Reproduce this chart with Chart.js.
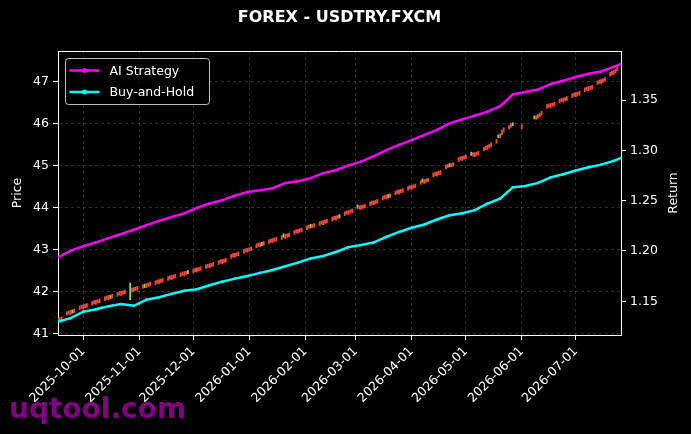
<!DOCTYPE html>
<html>
<head>
<meta charset="utf-8">
<script src="https://cdn.jsdelivr.net/npm/chart.js@4"></script>
<style>
  html, body { margin: 0; padding: 0; background: #000; }
  #wrap { width: 691px; height: 434px; position: relative; }
</style>
</head>
<body>
<div id="wrap"><canvas id="chart"></canvas></div>
<script>
// ---- data ----
const title = 'FOREX - USDTRY.FXCM';
const firstTradingDay = '2025-09-17';   // weekdays only, null = no bar

// daily candles, one row per week (Mon..Fri)
const opens = [
  41.26, 41.29, 41.30,
  41.43, 41.46, 41.45, 41.56, 41.49,
  41.56, 41.59, 41.58, 41.61, 41.62,
  41.67, 41.70, 41.69, 41.72, 41.73,
  41.78, 41.81, 41.80, 41.91, 41.84,
  41.88, 41.91, 41.90, 41.93, 41.94,
  42.20, 42.00, 41.99, 42.02, 42.03,
  42.07, 42.17, 42.09, 42.12, 42.13,
  42.16, 42.19, 42.18, 42.21, 42.22,
  42.26, 42.29, 42.28, 42.31, 42.32,
  42.35, 42.38, 42.37, 42.40, 42.50,
  42.44, 42.47, 42.46, 42.49, 42.50,
  42.54, 42.57, 42.56, 42.59, 42.60,
  42.64, 42.67, 42.66, 42.69, 42.70,
  42.79, 42.82, 42.81, 42.84, 42.85,
  42.91, 42.94, 42.93, 42.96, 42.97,
  43.04, 43.07, 43.06, 43.17, 43.10,
  43.14, 43.17, 43.16, 43.19, 43.20,
  43.24, 43.37, 43.26, 43.29, 43.30,
  43.36, 43.39, 43.38, 43.41, 43.42,
  43.47, 43.50, 43.60, 43.52, 43.53,
  43.57, 43.60, 43.59, 43.62, 43.63,
  43.68, 43.71, 43.70, 43.73, 43.83,
  43.81, 43.84, 43.83, 43.86, 43.87,
  44.06, 43.96, 43.95, 43.98, 43.99,
  44.04, 44.07, 44.06, 44.09, 44.10,
  44.18, 44.21, 44.20, 44.31, 44.24,
  44.30, 44.33, 44.32, 44.35, 44.36,
  44.41, 44.44, 44.43, 44.46, 44.47,
  44.55, 44.68, 44.57, 44.60, 44.61,
  44.73, 44.76, 44.75, 44.78, 44.79,
  44.92, 44.95, 45.05, 44.97, 44.98,
  45.10, 45.13, 45.12, 45.15, 45.16,
  45.32, 45.22, 45.21, 45.24, 45.25,
  45.35, 45.38, 45.38, 45.42, 45.45,
  45.53, 45.73, 45.66, 45.74, 45.81,
  45.87, 45.91, 46.02, null, null,
  45.88, null, null, null, null,
  46.18, 46.10, 46.13, 46.16, 46.20,
  46.36, 46.39, 46.38, 46.41, 46.42,
  46.49, 46.52, 46.51, 46.54, 46.55,
  46.62, 46.65, 46.64, 46.67, 46.68,
  46.76, 46.79, 46.78, 46.81, 46.82,
  46.93, 46.96, 46.95, 46.98, 47.01,
  47.13, 47.16, 47.17, 47.21, 47.26
];
const closes = [
  41.36, 41.37, 41.39,
  41.52, 41.54, 41.55, 41.48, 41.58,
  41.65, 41.67, 41.68, 41.69, 41.71,
  41.76, 41.78, 41.79, 41.80, 41.82,
  41.87, 41.89, 41.90, 41.83, 41.93,
  41.97, 41.99, 42.00, 42.01, 42.03,
  41.80, 42.08, 42.09, 42.10, 42.12,
  42.16, 42.09, 42.19, 42.20, 42.22,
  42.25, 42.27, 42.28, 42.29, 42.31,
  42.35, 42.37, 42.38, 42.39, 42.41,
  42.44, 42.46, 42.47, 42.48, 42.42,
  42.53, 42.55, 42.56, 42.57, 42.59,
  42.63, 42.65, 42.66, 42.67, 42.69,
  42.73, 42.75, 42.76, 42.77, 42.79,
  42.88, 42.90, 42.91, 42.92, 42.94,
  43.00, 43.02, 43.03, 43.04, 43.06,
  43.13, 43.15, 43.16, 43.09, 43.19,
  43.23, 43.25, 43.26, 43.27, 43.29,
  43.33, 43.29, 43.36, 43.37, 43.39,
  43.45, 43.47, 43.48, 43.49, 43.51,
  43.56, 43.58, 43.52, 43.60, 43.62,
  43.66, 43.68, 43.69, 43.70, 43.72,
  43.77, 43.79, 43.80, 43.81, 43.75,
  43.90, 43.92, 43.93, 43.94, 43.96,
  43.98, 44.04, 44.05, 44.06, 44.08,
  44.13, 44.15, 44.16, 44.17, 44.19,
  44.27, 44.29, 44.30, 44.23, 44.33,
  44.39, 44.41, 44.42, 44.43, 44.45,
  44.50, 44.52, 44.53, 44.54, 44.56,
  44.64, 44.60, 44.67, 44.68, 44.70,
  44.82, 44.84, 44.85, 44.86, 44.88,
  45.01, 45.03, 44.97, 45.05, 45.07,
  45.19, 45.21, 45.22, 45.23, 45.25,
  45.24, 45.30, 45.31, 45.32, 45.34,
  45.44, 45.46, 45.48, 45.51, 45.54,
  45.62, 45.66, 45.76, 45.84, 45.90,
  45.96, 46.00, 45.95, null, null,
  45.97, null, null, null, null,
  46.11, 46.19, 46.22, 46.25, 46.29,
  46.45, 46.47, 46.48, 46.49, 46.51,
  46.58, 46.60, 46.61, 46.62, 46.64,
  46.71, 46.73, 46.74, 46.75, 46.77,
  46.85, 46.87, 46.88, 46.89, 46.91,
  47.02, 47.04, 47.05, 47.07, 47.10,
  47.22, 47.25, 47.27, 47.30, 47.35
];

// strategy curves (right axis), weekly
const lineDates = ['2025-09-17','2025-09-24','2025-10-01','2025-10-08','2025-10-15','2025-10-22','2025-10-29',
  '2025-11-05','2025-11-12','2025-11-19','2025-11-26','2025-12-03','2025-12-10','2025-12-17','2025-12-24',
  '2025-12-31','2026-01-07','2026-01-14','2026-01-21','2026-01-28','2026-02-04','2026-02-11','2026-02-18',
  '2026-02-25','2026-03-04','2026-03-11','2026-03-18','2026-03-25','2026-04-01','2026-04-08','2026-04-15',
  '2026-04-22','2026-04-29','2026-05-06','2026-05-13','2026-05-20','2026-05-27','2026-06-03','2026-06-10',
  '2026-06-17','2026-06-24','2026-07-01','2026-07-08','2026-07-15','2026-07-22','2026-07-26'];
const aiStrategy = [1.1937,1.2003,1.2047,1.2085,1.2127,1.2168,1.2211,1.2257,1.2299,1.2337,
  1.2374,1.2429,1.2471,1.2504,1.2550,1.2585,1.2604,1.2623,1.2676,1.2693,
  1.2724,1.2773,1.2803,1.2850,1.2888,1.2942,1.3002,1.3055,1.3102,1.3153,
  1.3203,1.3268,1.3308,1.3345,1.3385,1.3439,1.3555,1.3579,1.3604,1.3659,
  1.3691,1.3729,1.3761,1.3784,1.3829,1.3858];
const buyHold = [1.1297,1.1332,1.1397,1.1420,1.1451,1.1472,1.1455,1.1515,1.1540,1.1574,
  1.1605,1.1620,1.1660,1.1695,1.1725,1.1752,1.1782,1.1811,1.1848,1.1884,
  1.1925,1.1950,1.1990,1.2038,1.2060,1.2085,1.2140,1.2189,1.2230,1.2263,
  1.2313,1.2354,1.2375,1.2406,1.2470,1.2520,1.2632,1.2645,1.2676,1.2731,
  1.2762,1.2800,1.2832,1.2858,1.2895,1.2925];

// axes
const xRange = ['2025-09-17', '2026-07-26'];
const tickLabels = ['2025-10-01','2025-11-01','2025-12-01','2026-01-01','2026-02-01','2026-03-01',
  '2026-04-01','2026-05-01','2026-06-01','2026-07-01'];
const priceRange = [40.96, 47.73];
const priceTicks = [41, 42, 43, 44, 45, 46, 47];
const returnRange = [1.1165, 1.3987];
const returnTicks = [1.15, 1.20, 1.25, 1.30, 1.35];

// ---- helpers ----
const DAY = 86400000;
function toDay(s) {
  const p = s.split('-').map(Number);
  return Date.UTC(p[0], p[1] - 1, p[2]) / DAY;
}
function fromDay(d) {
  return new Date(d * DAY).toISOString().slice(0, 10);
}

// walk the weekday calendar for the candles
const candleData = [];
const candleColors = [];
let day = toDay(firstTradingDay);
for (let i = 0; i < closes.length; i++) {
  while ([0, 6].includes(new Date(day * DAY).getUTCDay())) day++;
  if (closes[i] !== null) {
    candleData.push({x: day, y: [opens[i], closes[i]]});
    candleColors.push(closes[i] >= opens[i] ? '#f5473a' : '#7fdc45');
  }
  day++;
}

const FONT = 'DejaVu Sans';
const TXT = '#ffffff';

const canvasBg = {
  id: 'canvasBg',
  beforeDraw(chart) {
    const ctx = chart.ctx;
    ctx.save();
    ctx.fillStyle = '#000';
    ctx.fillRect(0, 0, chart.width, chart.height);
    ctx.restore();
  }
};

const extras = {
  id: 'extras',
  afterDraw(chart) {
    const ctx = chart.ctx;
    const a = chart.chartArea;
    ctx.save();
    // top spine
    ctx.strokeStyle = '#fff';
    ctx.lineWidth = 1;
    ctx.beginPath();
    ctx.moveTo(a.left, a.top + 0.5);
    ctx.lineTo(a.right, a.top + 0.5);
    ctx.stroke();

    // right axis title, reading upwards like matplotlib
    ctx.save();
    ctx.translate(chart.width - 17, (a.top + a.bottom) / 2);
    ctx.rotate(-Math.PI / 2);
    ctx.font = '12.5px ' + FONT;
    ctx.fillStyle = TXT;
    ctx.textAlign = 'center';
    ctx.textBaseline = 'middle';
    ctx.fillText('Return', 0, 0);
    ctx.restore();

    // legend box, upper left
    const bx = a.left + 7.5, by = a.top + 7.5, bw = 144, bh = 46;
    ctx.fillStyle = 'rgba(0,0,0,0.8)';
    ctx.strokeStyle = 'rgba(220,220,220,0.85)';
    ctx.lineWidth = 1;
    ctx.beginPath();
    ctx.roundRect(bx, by, bw, bh, 3);
    ctx.fill();
    ctx.stroke();
    const items = chart.data.datasets.filter(ds => ds.type === 'line');
    ctx.font = '12.5px ' + FONT;
    ctx.textBaseline = 'middle';
    items.forEach((ds, i) => {
      const yy = by + 12 + i * 21.5;
      ctx.strokeStyle = ds.borderColor;
      ctx.lineWidth = 2.5;
      ctx.beginPath();
      ctx.moveTo(bx + 4, yy);
      ctx.lineTo(bx + 34, yy);
      ctx.stroke();
      ctx.fillStyle = ds.borderColor;
      ctx.beginPath();
      ctx.arc(bx + 19, yy, 2.5, 0, Math.PI * 2);
      ctx.fill();
      ctx.fillStyle = TXT;
      ctx.fillText(ds.label, bx + 44, yy + 1);
    });

    // watermark
    ctx.font = 'bold 28px ' + FONT;
    ctx.fillStyle = 'rgba(140,0,140,0.95)';
    ctx.textBaseline = 'alphabetic';
    ctx.fillText('uqtool.com', 9, 418);
    ctx.restore();
  }
};

const tickFont = {family: FONT, size: 12.5};

new Chart(document.getElementById('chart'), {
  type: 'bar',
  data: {
    datasets: [
      {
        type: 'line',
        label: 'AI Strategy',
        data: lineDates.map((d, i) => ({x: toDay(d), y: aiStrategy[i]})),
        yAxisID: 'y2',
        borderColor: '#ff00ff',
        backgroundColor: '#ff00ff',
        borderWidth: 2.5,
        pointRadius: 1.3,
        pointBorderWidth: 0,
        tension: 0,
        order: 0
      },
      {
        type: 'line',
        label: 'Buy-and-Hold',
        data: lineDates.map((d, i) => ({x: toDay(d), y: buyHold[i]})),
        yAxisID: 'y2',
        borderColor: '#00ffff',
        backgroundColor: '#00ffff',
        borderWidth: 2.5,
        pointRadius: 1.3,
        pointBorderWidth: 0,
        tension: 0,
        order: 1
      },
      {
        type: 'bar',
        label: 'Price',
        data: candleData,
        yAxisID: 'y',
        backgroundColor: candleColors,
        borderWidth: 0,
        barThickness: 1.2,
        grouped: false,
        order: 2
      }
    ]
  },
  options: {
    responsive: true,
    maintainAspectRatio: false,
    animation: false,
    events: [],
    layout: {padding: 0},
    plugins: {
      legend: {display: false},
      tooltip: {enabled: false},
      title: {
        display: true,
        text: title,
        color: TXT,
        fullSize: false,
        font: {family: FONT, size: 16, weight: 'bold'},
        padding: {top: 8.5, bottom: 23.3}
      }
    },
    scales: {
      x: {
        type: 'linear',
        offset: false,
        min: toDay(xRange[0]),
        max: toDay(xRange[1]),
        afterBuildTicks: s => { s.ticks = tickLabels.map(t => ({value: toDay(t)})); },
        afterFit: s => { s.height = 99; },
        ticks: {
          color: TXT, font: tickFont, padding: 4,
          minRotation: 45, maxRotation: 45, autoSkip: false,
          callback: v => fromDay(v)
        },
        grid: {
          offset: false,
          color: 'rgba(255,255,255,0.22)', lineWidth: 0.8,
          tickColor: '#fff', tickLength: 5, tickWidth: 1
        },
        border: {color: '#fff', width: 1, dash: [3, 3]}
      },
      y: {
        position: 'left',
        min: priceRange[0],
        max: priceRange[1],
        afterBuildTicks: s => { s.ticks = priceTicks.map(v => ({value: v})); },
        afterFit: s => { s.width = 58; },
        ticks: {color: TXT, font: tickFont, padding: 4},
        grid: {
          color: 'rgba(255,255,255,0.22)', lineWidth: 0.8,
          tickColor: '#fff', tickLength: 5, tickWidth: 1
        },
        border: {color: '#fff', width: 1, dash: [3, 3]},
        title: {display: true, text: 'Price', color: TXT, font: tickFont, padding: {top: 10, bottom: 0}}
      },
      y2: {
        position: 'right',
        min: returnRange[0],
        max: returnRange[1],
        afterBuildTicks: s => { s.ticks = returnTicks.map(v => ({value: v})); },
        afterFit: s => { s.width = 70; },
        ticks: {color: TXT, font: tickFont, padding: 4, callback: v => v.toFixed(2)},
        grid: {
          drawOnChartArea: false,
          tickColor: '#fff', tickLength: 5, tickWidth: 1
        },
        border: {color: '#fff', width: 1}
      }
    }
  },
  plugins: [canvasBg, extras]
});
</script>
</body>
</html>
